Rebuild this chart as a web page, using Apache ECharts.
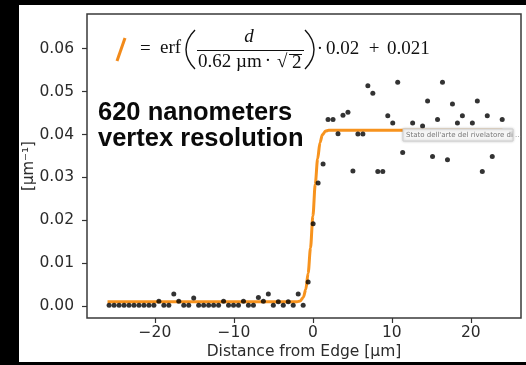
<!DOCTYPE html>
<html>
<head>
<meta charset="utf-8">
<script src="https://cdn.jsdelivr.net/npm/echarts@6/dist/echarts.min.js"></script>
<style>
  html, body { margin: 0; padding: 0; background: #000; }
  #panel { position: absolute; left: 19px; top: 5px; width: 507px; height: 357px; background: #fff; }
  #chart { position: absolute; left: 0; top: 0; width: 526px; height: 365px; }
</style>
</head>
<body>
<div id="panel"></div>
<div id="chart"></div>
<script>
/****************************** DATA ********************************/
// measured profile, x in µm (one sample every ~0.63 µm, gaps are hidden under the label box)
const pointX = [
  -25.8, -25.17, -24.54, -23.91, -23.28, -22.65, -22.02, -21.39, -20.76, -20.13,
  -19.5, -18.87, -18.24, -17.61, -16.98, -16.35, -15.72, -15.09, -14.46, -13.83,
  -13.2, -12.57, -11.94, -11.31, -10.68, -10.05, -9.42, -8.79, -8.16, -7.53,
  -6.9, -6.27, -5.64, -5.01, -4.38, -3.75, -3.12, -2.49, -1.86, -1.23,
  -0.6, 0.03, 0.66, 1.29, 1.92, 2.55, 3.18, 3.81, 4.44, 5.07,
  5.7, 6.33, 6.96, 7.59, 8.22, 8.85, 9.48, 10.11, 10.74, 11.37,
  12.63, 13.89, 14.52, 15.15, 15.78, 16.41, 17.04, 17.67, 18.3, 18.93,
  20.19, 20.82, 21.45, 22.08, 22.71, 23.97
]
const pointY = [
  0.0002, 0.0002, 0.0002, 0.0002, 0.0002, 0.0002, 0.0002, 0.0002, 0.0002, 0.0002,
  0.0011, 0.0002, 0.0002, 0.0028, 0.0011, 0.0002, 0.0002, 0.0019, 0.0002, 0.0002,
  0.0002, 0.0002, 0.0002, 0.0011, 0.0002, 0.0002, 0.0002, 0.0011, 0.0002, 0.0002,
  0.0020, 0.0011, 0.0028, 0.0002, 0.0010, 0.0002, 0.0010, 0.0002, 0.0028, 0.0002,
  0.0056, 0.0192, 0.0287, 0.0331, 0.0435, 0.0435, 0.0402, 0.0445, 0.0452, 0.0315,
  0.0401, 0.0401, 0.0514, 0.0496, 0.0314, 0.0314, 0.0444, 0.0427, 0.0522, 0.0358,
  0.0427, 0.0420, 0.0478, 0.0349, 0.0435, 0.0522, 0.0341, 0.0471, 0.0427, 0.0444,
  0.0427, 0.0478, 0.0314, 0.0444, 0.0349, 0.0435
]

// fitted edge curve
const fitX = [-26, -2.5, -2, -1.6, -1.2, -0.9, -0.6, -0.3, 0, 0.3, 0.6, 0.9, 1.2, 1.6, 2, 2.5, 24]
const fitY = [0.0010, 0.0010, 0.00103, 0.00119, 0.00207, 0.00391, 0.00767, 0.01357, 0.021,
  0.02843, 0.03433, 0.03809, 0.03993, 0.04081, 0.04097, 0.0410, 0.0410]

const xTicks = [-20, -10, 0, 10, 20]
const yTicks = [0, 0.01, 0.02, 0.03, 0.04, 0.05, 0.06]

/****************************** CHART ********************************/
const chart = echarts.init(document.getElementById('chart'))

const serif = 'Liberation Serif'
const eqText = (x, y, text, extra) => ({
  type: 'text',
  x: x,
  y: y,
  z: 10,
  style: Object.assign({
    text: text,
    font: '19px "' + serif + '"',
    fill: '#111',
    verticalAlign: 'middle'
  }, extra || {})
})
// thin stroke helper for the equation's bars and brackets
const eqStroke = (type, shape, width) => ({
  type: type,
  z: 10,
  shape: shape,
  style: { stroke: '#111', lineWidth: width || 1, fill: null }
})

const option = {
  animation: false,
  backgroundColor: 'transparent',
  grid: {
    left: 87,
    right: 5,
    top: 14,
    bottom: 45,
    show: true,
    borderColor: '#3a3a3a',
    borderWidth: 1.5,
    backgroundColor: 'transparent'
  },
  xAxis: {
    type: 'value',
    min: -28.6,
    max: 26.35,
    name: 'Distance from Edge [µm]',
    nameLocation: 'middle',
    nameGap: 26,
    nameMoveOverlap: false,
    nameTextStyle: { fontFamily: 'DejaVu Sans', fontSize: 15.5, color: '#2b2b2b' },
    splitLine: { show: false },
    axisLine: { show: false, onZero: false },
    axisTick: { show: true, length: 5, lineStyle: { color: '#333', width: 1.2 }, customValues: xTicks },
    axisLabel: {
      customValues: xTicks,
      margin: 7,
      fontFamily: 'DejaVu Sans',
      fontSize: 15.5,
      color: '#2b2b2b',
      formatter: (v) => String(v).replace('-', '\u2212')
    }
  },
  yAxis: {
    type: 'value',
    min: -0.00278,
    max: 0.0681,
    name: '[µm⁻¹]',
    nameLocation: 'middle',
    nameGap: 50,
    nameRotate: 90,
    nameMoveOverlap: false,
    nameTextStyle: { fontFamily: 'DejaVu Sans', fontSize: 15, color: '#2b2b2b' },
    splitLine: { show: false },
    axisLine: { show: false, onZero: false },
    axisTick: { show: true, length: 5, lineStyle: { color: '#333', width: 1.2 }, customValues: yTicks },
    axisLabel: {
      customValues: yTicks,
      margin: 13,
      fontFamily: 'DejaVu Sans',
      fontSize: 15.5,
      color: '#2b2b2b',
      formatter: (v) => v.toFixed(2)
    }
  },
  series: [
    {
      name: 'fit',
      type: 'line',
      data: fitX.map((x, i) => [x, fitY[i]]),
      showSymbol: false,
      smooth: 0.3,
      smoothMonotone: 'x',
      lineStyle: { color: '#f7931e', width: 3 },
      z: 3
    },
    {
      name: 'data',
      type: 'scatter',
      data: pointX.map((x, i) => [x, pointY[i]]),
      symbolSize: 5,
      itemStyle: { color: '#000' },
      z: 4
    }
  ],
  graphic: [
    // big annotation
    {
      type: 'text',
      x: 98,
      y: 100,
      z: 10,
      style: {
        text: '620 nanometers\nvertex resolution',
        font: 'bold 25.5px "Liberation Sans"',
        lineHeight: 26,
        fill: '#0a0a0a'
      }
    },
    // legend handle + equation
    {
      type: 'line',
      z: 10,
      shape: { x1: 117, y1: 61, x2: 125, y2: 38 },
      style: { stroke: '#f28a1a', lineWidth: 3 }
    },
    eqText(140, 49, '='),
    eqText(160, 48, 'erf'),
    eqStroke('bezierCurve', { x1: 195, y1: 30, cpx1: 183, cpy1: 42, cpx2: 183, cpy2: 57, x2: 195, y2: 69 }, 1.4),
    eqText(249, 37, 'd', { font: 'italic 19px "' + serif + '"', align: 'center' }),
    eqStroke('line', { x1: 197, y1: 50.5, x2: 304, y2: 50.5 }),
    eqText(198, 62, '0.62'),
    eqText(236, 62, 'µm'),
    eqText(268, 61, '·', { align: 'center' }),
    eqText(277, 62, '√'),
    eqText(292, 63, '2'),
    eqStroke('line', { x1: 289, y1: 54.5, x2: 302, y2: 54.5 }),
    eqStroke('bezierCurve', { x1: 305, y1: 30, cpx1: 317, cpy1: 42, cpx2: 317, cpy2: 57, x2: 305, y2: 69 }, 1.4),
    eqText(320, 49, '·', { align: 'center' }),
    eqText(326, 49, '0.02'),
    eqText(374, 49, '+', { align: 'center' }),
    eqText(387, 49, '0.021'),
    // hover label box
    {
      type: 'rect',
      z: 20,
      shape: { x: 403, y: 129, width: 110, height: 12 },
      style: {
        fill: '#f6f6f6',
        stroke: '#cfcfcf',
        lineWidth: 1,
        shadowBlur: 3,
        shadowColor: 'rgba(0,0,0,0.2)'
      }
    },
    {
      type: 'text',
      z: 21,
      x: 406,
      y: 135,
      style: {
        text: "Stato dell'arte del rivelatore di ...",
        font: '7px "DejaVu Sans"',
        fill: '#777',
        verticalAlign: 'middle'
      }
    }
  ]
}

chart.setOption(option)
</script>
</body>
</html>
